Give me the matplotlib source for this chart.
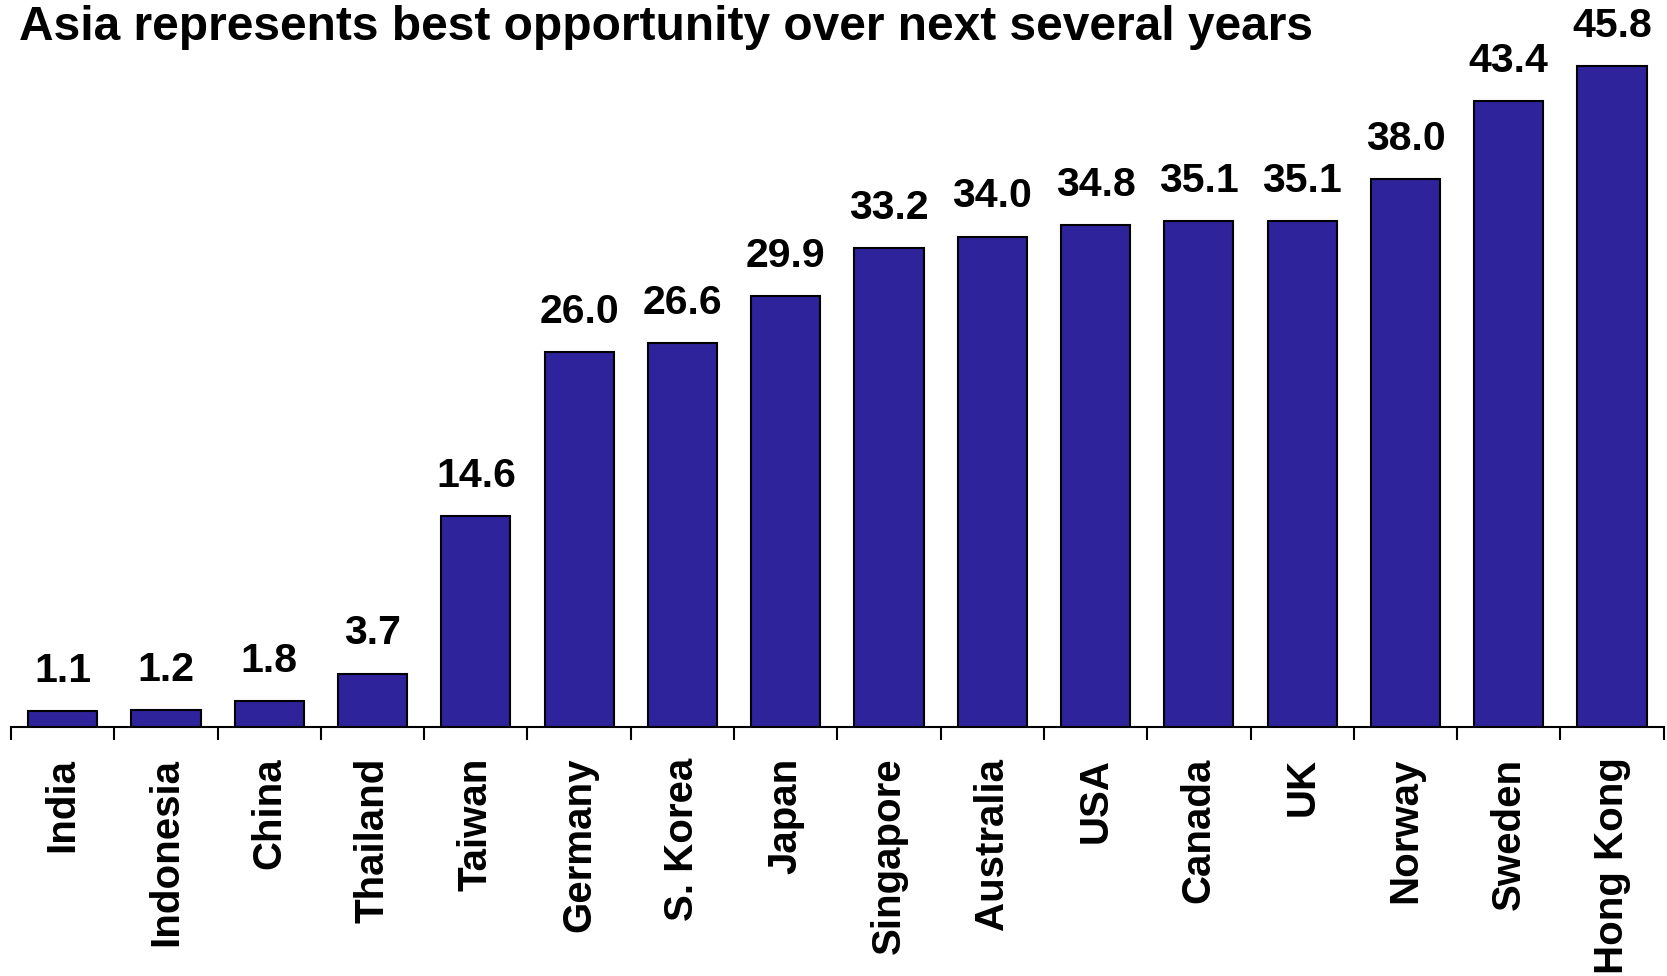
import numpy as np
import matplotlib.pyplot as plt

countries = ["India", "Indonesia", "China", "Thailand", "Taiwan", "Germany",
             "S. Korea", "Japan", "Singapore", "Australia", "USA", "Canada",
             "UK", "Norway", "Sweden", "Hong Kong"]
values = [1.1, 1.2, 1.8, 3.7, 14.6, 26.0, 26.6, 29.9, 33.2, 34.0, 34.8, 35.1,
          35.1, 38.0, 43.4, 45.8]
title = "Asia represents best opportunity over next several years"

bar_color = "#2E239A"
plt.rcParams['font.family'] = ['Liberation Sans', 'DejaVu Sans']
plt.rcParams['font.weight'] = 'bold'

fig = plt.figure(figsize=(16.67, 9.76), dpi=100)
ax = fig.add_axes([0.0066, 0.2551, 0.9914, 0.7449])

x = np.arange(len(countries))
ax.bar(x, values, width=0.67, color=bar_color, edgecolor='black', linewidth=1.5, zorder=2)

for xi, v in zip(x, values):
    ax.annotate(f"{v:.1f}", (xi, v), xytext=(0, 21), textcoords='offset points',
                ha='center', va='baseline', fontsize=29.5, fontweight='bold')

ax.set_xlim(-0.5, len(countries) - 0.5)
ax.set_ylim(0, 50.4)

# ticks between categories, labels centred under bars
ax.set_xticks(np.arange(-0.5, len(countries), 1.0))
ax.set_xticklabels([])
ax.tick_params(axis='x', which='major', direction='out', length=9, width=1.5)
ax.set_xticks(x, minor=True)
ax.set_xticklabels(countries, minor=True, rotation=90, fontsize=29, fontweight='bold',
                   va='top', ha='center')
ax.tick_params(axis='x', which='minor', length=0, pad=22)
ax.set_yticks([])

for s in ['top', 'right', 'left']:
    ax.spines[s].set_visible(False)
ax.spines['bottom'].set_linewidth(1.5)

fig.text(0.0114, 0.959, title, fontsize=34.5, fontweight='bold',
         ha='left', va='baseline')

fig.savefig("out.png", dpi=100)
